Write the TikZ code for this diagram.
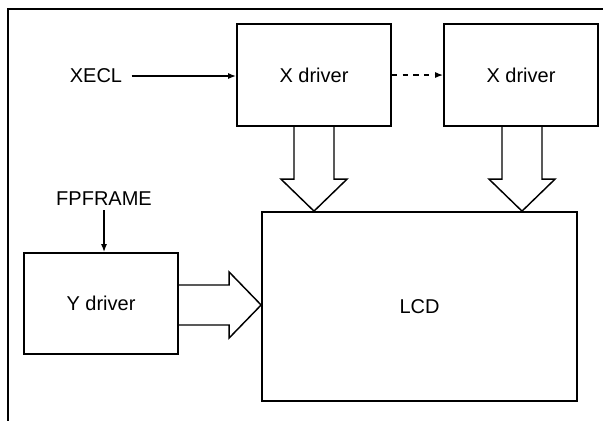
\documentclass[tikz,border=0pt]{standalone}
\usepackage{fontspec}
\setmainfont{Liberation Sans}
\usepackage{tikz}
\usetikzlibrary{calc,arrows.meta}

\begin{document}
\begin{tikzpicture}[
  x=0.75pt, y=-0.75pt,
  >={Latex[length=6pt,width=4.5pt]},
  frame/.style={draw=black, line width=0.8pt},
  block/.style={draw=black, line width=1.3pt, font=\fontsize{15}{18}\selectfont,
                minimum width=115.5pt, minimum height=76.5pt, inner sep=0pt},
  lab/.style={font=\fontsize{15}{18}\selectfont, inner sep=2pt},
  sig/.style={->, line width=1pt},
  bus/.style={draw=black, line width=1.1pt, line join=miter},
]
\useasboundingbox (0,0) rectangle (603,421);

% ------------------------------------------------------------------
% outer frame (top and left edges only)
% ------------------------------------------------------------------
\coordinate (fbl) at (8,421);
\coordinate (ftl) at (8,9);
\coordinate (ftr) at (603,9);
\draw[frame] (fbl) -- (ftl) -- (ftr);

% ------------------------------------------------------------------
% blocks
% ------------------------------------------------------------------
\node[block] (xa)  at (314,75)    {X driver};
\node[block] (xb)  at (521,75)    {X driver};
\node[block, minimum height=75.75pt] (yd) at (101,303.5) {Y driver};
\node[block, minimum width=236.25pt, minimum height=141.75pt] (lcd) at (419.5,306.5) {LCD};

% inputs
\node[lab] (xecl) at (96,76)  {XECL};
\node[lab] (fpf)  at (104,199) {FPFRAME};

\draw[sig, shorten <=5pt] (xecl.east) -- (xa.west |- xecl.east);
\draw[sig, dash pattern=on 4pt off 4pt] (xa.east) -- (xb.west);
\draw[sig, shorten <=1pt] (fpf.south) -- (fpf.south |- yd.north);

% ------------------------------------------------------------------
% hollow bus arrows
% ------------------------------------------------------------------
\coordinate (t1) at (xa.south |- lcd.north);
\draw[bus] ($(xa.south)+(-20,0)$) -- ($(t1)+(-20,-32)$) -- ($(t1)+(-33,-32)$)
   -- (t1) -- ($(t1)+(33,-32)$) -- ($(t1)+(20,-32)$) -- ($(xa.south)+(20,0)$);

\coordinate (t2) at ($(xb.south |- lcd.north)+(1,0)$);
\draw[bus] ($(xb.south)+(-19,0)$) -- ($(t2)+(-20,-32)$) -- ($(t2)+(-33,-32)$)
   -- (t2) -- ($(t2)+(33,-32)$) -- ($(t2)+(20,-32)$) -- ($(xb.south)+(21,0)$);

\coordinate (t3) at ($(lcd.west |- yd.east)+(0,1.5)$);
\draw[bus] ($(yd.east)+(0,-18.5)$) -- ($(t3)+(-32,-20)$) -- ($(t3)+(-32,-33)$)
   -- (t3) -- ($(t3)+(-32,33)$) -- ($(t3)+(-32,20)$) -- ($(yd.east)+(0,21.5)$);
\end{tikzpicture}
\end{document}
